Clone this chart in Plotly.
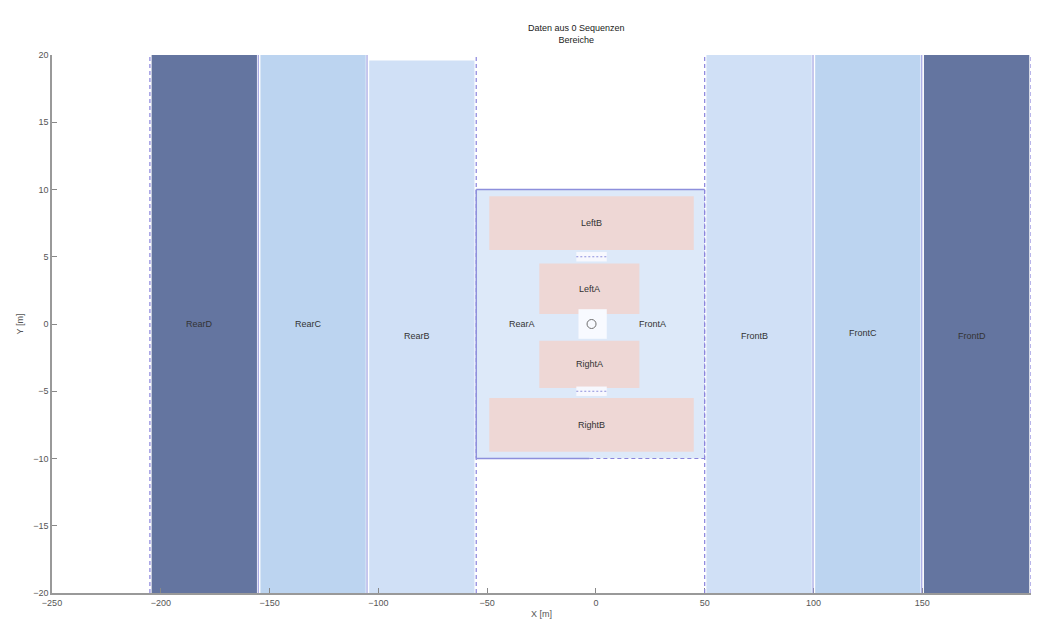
import plotly.graph_objects as go

# Longitudinal regions (rear/front zones) in metres
long_names = ["RearD", "RearC", "RearB", "FrontB", "FrontC", "FrontD"]
long_x0 = [-205, -155, -105, 50, 100, 150]
long_x1 = [-155, -105, -55, 100, 150, 200]
long_y0 = [-20, -20, -20, -20, -20, -20]
long_y1 = [20, 20, 19.6, 20, 20, 20]
long_label_y = [0, 0, -0.9, -0.9, -0.7, -0.9]

# Near field around the vehicle
near_x0, near_x1 = -55, 50
near_y0, near_y1 = -10, 10
near_labels = ["RearA", "FrontA"]
near_label_x = [-34, 26]

# Lateral regions (left/right zones)
lat_names = ["LeftB", "LeftA", "RightA", "RightB"]
lat_x0 = [-49, -26, -26, -49]
lat_x1 = [45, 20, 20, 45]
lat_y0 = [5.5, 0.75, -4.75, -9.5]
lat_y1 = [9.5, 4.5, -1.25, -5.5]

# Boundaries drawn as dashed lines
dashed_x = [-205, -55, 50, 200]
# Inner boundaries between neighbouring zones
solid_x = [-155, -105, 100, 150]

x_ticks = [-250, -200, -150, -100, -50, 0, 50, 100, 150, 200]
y_ticks = [-20, -15, -10, -5, 0, 5, 10, 15, 20]

zone_colors = {
    "RearD": "#6475a0", "FrontD": "#6475a0",
    "RearC": "#bcd4f0", "FrontC": "#bcd4f0",
    "RearB": "#d0e0f6", "FrontB": "#d0e0f6",
}
near_color = "#dde9f9"
lat_color = "#eed7d5"
edge_color = "#8d8fdc"
dash_color = "#8a84dc"
text_color = "#333333"
short_dash = "4px,3px"
font = "Liberation Sans, Arial, sans-serif"

fig = go.Figure()
shapes = []

for name, x0, x1, y0, y1 in zip(long_names, long_x0, long_x1, long_y0, long_y1):
    shapes.append(dict(type="rect", xref="x", yref="y", x0=x0 + 0.8, x1=x1 - 0.8,
                       y0=y0, y1=y1, fillcolor=zone_colors[name],
                       line=dict(width=0), layer="below"))

for x in solid_x:
    shapes.append(dict(type="line", xref="x", yref="y", x0=x - 0.2, x1=x - 0.2,
                       y0=-20, y1=20, line=dict(color=edge_color, width=1)))

for x in dashed_x:
    shapes.append(dict(type="line", xref="x", yref="y", x0=x, x1=x,
                       y0=-20, y1=20, line=dict(color=dash_color, width=1.2, dash=short_dash)))

# Near field box
shapes.append(dict(type="rect", xref="x", yref="y", x0=near_x0, x1=near_x1,
                   y0=near_y0, y1=near_y1, fillcolor=near_color,
                   line=dict(width=0), layer="below"))
shapes.append(dict(type="line", xref="x", yref="y", x0=near_x0, x1=near_x1,
                   y0=near_y1, y1=near_y1, line=dict(color=edge_color, width=1.5)))
shapes.append(dict(type="line", xref="x", yref="y", x0=near_x0, x1=near_x0,
                   y0=near_y0, y1=near_y1, line=dict(color=edge_color, width=1.5)))
shapes.append(dict(type="line", xref="x", yref="y", x0=near_x0, x1=-3,
                   y0=near_y0, y1=near_y0, line=dict(color=edge_color, width=1.5)))
shapes.append(dict(type="line", xref="x", yref="y", x0=-3, x1=near_x1,
                   y0=near_y0, y1=near_y0, line=dict(color=dash_color, width=1, dash=short_dash)))
shapes.append(dict(type="line", xref="x", yref="y", x0=near_x1, x1=near_x1,
                   y0=near_y0, y1=near_y1, line=dict(color=dash_color, width=1, dash=short_dash)))

for x0, x1, y0, y1 in zip(lat_x0, lat_x1, lat_y0, lat_y1):
    shapes.append(dict(type="rect", xref="x", yref="y", x0=x0, x1=x1, y0=y0, y1=y1,
                       fillcolor=lat_color, line=dict(width=0), layer="below"))

# Sensor gaps between the lateral zones and around the origin
for yc in [5.0, -5.0]:
    shapes.append(dict(type="rect", xref="x", yref="y", x0=-9, x1=5, y0=yc - 0.35, y1=yc + 0.35,
                       fillcolor="#f7f8fe", line=dict(width=0), layer="below"))
    shapes.append(dict(type="line", xref="x", yref="y", x0=-9, x1=5, y0=yc, y1=yc,
                       line=dict(color=edge_color, width=1, dash="2px,2px")))
shapes.append(dict(type="rect", xref="x", yref="y", x0=-8, x1=5, y0=-1.1, y1=1.1,
                   fillcolor="#f8faff", line=dict(width=0), layer="below"))

# Sensor origin symbol
fig.add_trace(go.Scatter(x=[-2], y=[0], mode="markers",
                         marker=dict(symbol="circle-open", size=9, color="#6f6f6f",
                                     line=dict(color="#6f6f6f", width=1)),
                         hoverinfo="skip", showlegend=False))

# Zone labels
for name, x0, x1, ly in zip(long_names, long_x0, long_x1, long_label_y):
    fig.add_annotation(x=(x0 + x1) / 2 - 2, y=ly, text=name, showarrow=False,
                       font=dict(size=9, color=text_color, family=font))
for name, lx in zip(near_labels, near_label_x):
    fig.add_annotation(x=lx, y=0, text=name, showarrow=False,
                       font=dict(size=9, color=text_color, family=font))
for name, x0, x1, y0, y1 in zip(lat_names, lat_x0, lat_x1, lat_y0, lat_y1):
    fig.add_annotation(x=(x0 + x1) / 2, y=(y0 + y1) / 2, text=name, showarrow=False,
                       font=dict(size=9, color=text_color, family=font))

fig.add_annotation(xref="paper", yref="paper", x=0.536, y=1.0, yshift=8,
                   yanchor="bottom", text="Daten aus 0 Sequenzen<br>Bereiche",
                   showarrow=False, font=dict(size=9, color="#222222", family=font))

fig.update_layout(
    width=1038, height=628,
    margin=dict(l=52, r=7, t=55, b=35),
    paper_bgcolor="white", plot_bgcolor="white",
    shapes=shapes,
    font=dict(family=font, size=9, color="#555555"),
    xaxis=dict(range=[-250, 200], tickvals=x_ticks, ticks="inside", ticklen=5,
               tickcolor="#888888", showline=True, linecolor="#999999", linewidth=1.5,
               showgrid=False, zeroline=False,
               title=dict(text="X [m]", standoff=4, font=dict(size=9, color="#555555"))),
    yaxis=dict(range=[-20, 20], tickvals=y_ticks, ticks="inside", ticklen=5,
               tickcolor="#888888", showline=True, linecolor="#999999", linewidth=1.5,
               showgrid=False, zeroline=False,
               title=dict(text="Y [m]", standoff=8, font=dict(size=9, color="#555555"))),
)

fig.write_html("out.html")
